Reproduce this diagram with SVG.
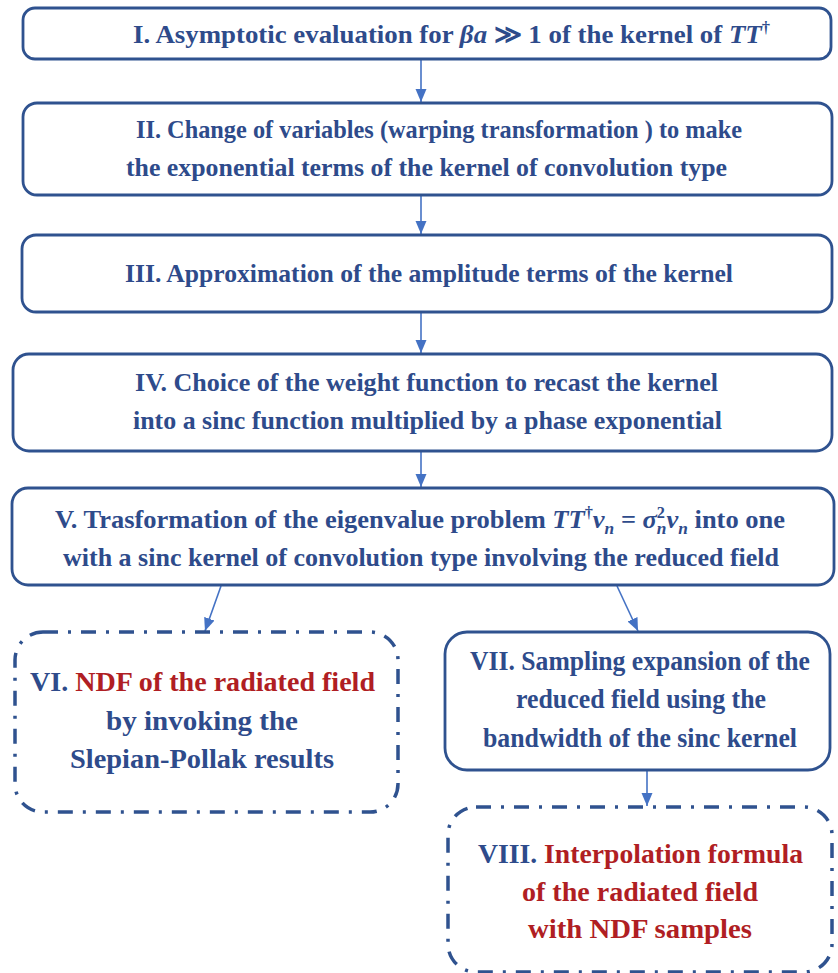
<svg xmlns="http://www.w3.org/2000/svg" width="838" height="973" viewBox="0 0 838 973">
<style>
.box{fill:#fff;stroke:#2F528F;stroke-width:2.8}
.dd{fill:#fff;stroke:#2F528F;stroke-width:3.5;stroke-dasharray:15 10 3 10}
.t{font-family:"Liberation Serif","Times New Roman",serif;font-weight:bold;font-size:26px;fill:#2E4B8B}
.b{font-family:"Liberation Serif","Times New Roman",serif;font-weight:bold;font-size:28px;fill:#2E4B8B}
.r{fill:#B01E23}
.m{font-style:italic}
.c{fill:none;stroke:#4472C4;stroke-width:1.6}
</style>
<defs>
<marker id="ah" markerUnits="userSpaceOnUse" markerWidth="14" markerHeight="14" viewBox="0 0 14 14" refX="13" refY="7" orient="auto">
<path d="M0,1.5 L13,7 L0,12.5 Z" fill="#4472C4"/>
</marker>
</defs>
<rect width="838" height="973" fill="#fff"/>
<g id="connectors">
<line class="c" x1="421" y1="60" x2="421" y2="102" marker-end="url(#ah)"/>
<line class="c" x1="421" y1="196" x2="421" y2="234" marker-end="url(#ah)"/>
<line class="c" x1="421" y1="312" x2="421" y2="353" marker-end="url(#ah)"/>
<line class="c" x1="421" y1="452" x2="421" y2="487" marker-end="url(#ah)"/>
<line class="c" x1="221" y1="586" x2="205" y2="631" marker-end="url(#ah)"/>
<line class="c" x1="617" y1="586" x2="638" y2="631" marker-end="url(#ah)"/>
<line class="c" x1="647" y1="770" x2="647" y2="806" marker-end="url(#ah)"/>
</g>
<g id="n1">
<rect class="box" x="23" y="8" width="808" height="51" rx="12"/>
<text class="t" x="133" y="43" textLength="637" lengthAdjust="spacingAndGlyphs">I. Asymptotic evaluation for <tspan class="m">βa</tspan> ≫ 1 of the kernel of <tspan class="m">TT</tspan><tspan dy="-10" font-size="16">†</tspan></text>
</g>
<g id="n2">
<rect class="box" x="23" y="103" width="809" height="92" rx="14"/>
<text class="t" x="136" y="138" textLength="606" lengthAdjust="spacingAndGlyphs">II. Change of variables (warping transformation ) to make</text>
<text class="t" x="126" y="176" textLength="601" lengthAdjust="spacingAndGlyphs">the exponential terms of the kernel of convolution type</text>
</g>
<g id="n3">
<rect class="box" x="22" y="235" width="810" height="77" rx="14"/>
<text class="t" x="125" y="282" textLength="608" lengthAdjust="spacingAndGlyphs">III. Approximation of the amplitude terms of the kernel</text>
</g>
<g id="n4">
<rect class="box" x="13" y="354" width="819" height="97" rx="16"/>
<text class="t" x="135" y="391" textLength="583" lengthAdjust="spacingAndGlyphs">IV. Choice of the weight function to recast the kernel</text>
<text class="t" x="133" y="429" textLength="589" lengthAdjust="spacingAndGlyphs">into a sinc function multiplied by a phase exponential</text>
</g>
<g id="n5">
<rect class="box" x="12" y="488" width="822" height="97" rx="16"/>
<text class="t" x="55" y="528" textLength="730" lengthAdjust="spacingAndGlyphs">V. Trasformation of the eigenvalue problem  <tspan class="m">TT</tspan><tspan dy="-10" font-size="16">†</tspan><tspan class="m" dy="10">v</tspan><tspan class="m" dy="6" font-size="17">n</tspan><tspan dy="-6"> = </tspan><tspan class="m">σ</tspan><tspan dy="-10" font-size="16">2</tspan><tspan class="m" dx="-8" dy="16" font-size="17">n</tspan><tspan class="m" dy="-6">v</tspan><tspan class="m" dy="6" font-size="17">n</tspan><tspan dy="-6">  into one</tspan></text>
<text class="t" x="63" y="566" textLength="716" lengthAdjust="spacingAndGlyphs">with a sinc kernel of convolution type involving the reduced field</text>
</g>
<g id="n6">
<rect class="dd" x="15" y="632" width="383" height="180" rx="28"/>
<text class="b" x="30" y="691" textLength="345" lengthAdjust="spacingAndGlyphs">VI. <tspan class="r">NDF of the radiated field</tspan></text>
<text class="b" x="106" y="730" textLength="192" lengthAdjust="spacingAndGlyphs">by invoking the</text>
<text class="b" x="70" y="768" textLength="264" lengthAdjust="spacingAndGlyphs">Slepian-Pollak results</text>
</g>
<g id="n7">
<rect class="box" x="445" y="632" width="385" height="138" rx="22"/>
<text class="b" x="470" y="670" textLength="340" lengthAdjust="spacingAndGlyphs">VII. Sampling expansion of the</text>
<text class="b" x="516" y="708" textLength="250" lengthAdjust="spacingAndGlyphs">reduced field using the</text>
<text class="b" x="483" y="747" textLength="314" lengthAdjust="spacingAndGlyphs">bandwidth of the sinc kernel</text>
</g>
<g id="n8">
<rect class="dd" x="448" y="807" width="384" height="165" rx="28"/>
<text class="b" x="478" y="863" textLength="325" lengthAdjust="spacingAndGlyphs">VIII. <tspan class="r">Interpolation formula</tspan></text>
<text class="b r" x="522" y="901" textLength="236" lengthAdjust="spacingAndGlyphs">of the radiated field</text>
<text class="b r" x="528" y="938" textLength="224" lengthAdjust="spacingAndGlyphs">with NDF samples</text>
</g>
</svg>
